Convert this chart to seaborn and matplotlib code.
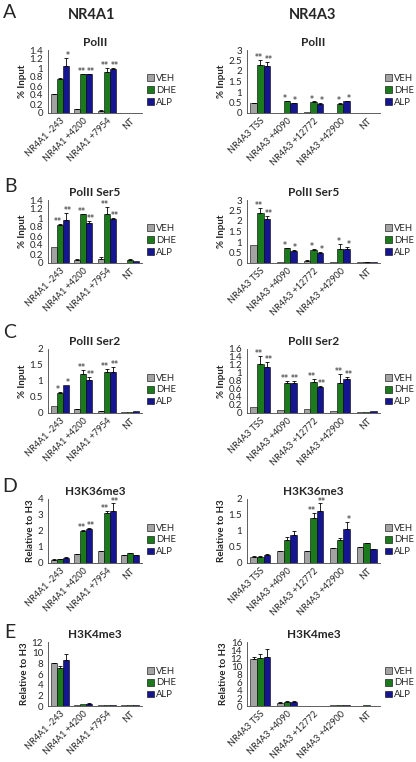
import numpy as np
import pandas as pd
import matplotlib
matplotlib.use("Agg")
import matplotlib.pyplot as plt
import seaborn as sns

sns.set_theme(style="white")
plt.rcParams["font.family"] = ["Lato", "DejaVu Sans"]

# categories
sites_a1 = ["NR4A1 -243", "NR4A1 +4200", "NR4A1 +7954", "NT"]
sites_a3 = ["NR4A3 TSS", "NR4A3 +4090", "NR4A3 +12772", "NR4A3 +42900", "NT"]
treatments = ["VEH", "DHE", "ALP"]
colors = ["#a3a3a3", "#0b8a0b", "#0000a6"]

# A: PolII  (rows = VEH, DHE, ALP)
polii_a1 = [[0.42, 0.08, 0.05, 0.01], [0.76, 0.86, 0.92, 0.01], [1.04, 0.86, 0.97, 0.01]]
polii_a1_err = [[0.01, 0.01, 0.01, 0.0], [0.02, 0.01, 0.08, 0.0], [0.19, 0.01, 0.04, 0.0]]
polii_a1_stars = [["", "", "", ""], ["", "**", "**", ""], ["*", "**", "**", ""]]
polii_a3 = [[0.48, 0.02, 0.03, 0.02, 0.01], [2.3, 0.55, 0.52, 0.45, 0.01], [2.25, 0.46, 0.45, 0.55, 0.01]]
polii_a3_err = [[0.01, 0.0, 0.0, 0.0, 0.0], [0.22, 0.03, 0.03, 0.02, 0.0], [0.2, 0.02, 0.02, 0.02, 0.0]]
polii_a3_stars = [["", "", "", "", ""], ["**", "*", "*", "*", ""], ["**", "*", "*", "*", ""]]

# B: PolII Ser5
ser5_a1 = [[0.35, 0.07, 0.1, 0.01], [0.84, 1.09, 1.08, 0.06], [0.96, 0.9, 0.97, 0.05]]
ser5_a1_err = [[0.0, 0.02, 0.04, 0.0], [0.02, 0.01, 0.17, 0.02], [0.15, 0.04, 0.03, 0.0]]
ser5_a1_stars = [["", "", "", ""], ["**", "**", "**", ""], ["**", "**", "**", ""]]
ser5_a3 = [[0.85, 0.05, 0.1, 0.03, 0.03], [2.4, 0.7, 0.62, 0.67, 0.05], [2.1, 0.58, 0.48, 0.65, 0.04]]
ser5_a3_err = [[0.0, 0.0, 0.02, 0.0, 0.0], [0.2, 0.03, 0.03, 0.25, 0.01], [0.15, 0.06, 0.03, 0.12, 0.0]]
ser5_a3_stars = [["", "", "", "", ""], ["**", "*", "*", "*", ""], ["**", "*", "*", "*", ""]]

# C: PolII Ser2
ser2_a1 = [[0.22, 0.12, 0.06, 0.02], [0.64, 1.22, 1.28, 0.02], [0.88, 1.02, 1.27, 0.06]]
ser2_a1_err = [[0.0, 0.02, 0.01, 0.0], [0.02, 0.12, 0.1, 0.0], [0.0, 0.12, 0.16, 0.0]]
ser2_a1_stars = [["", "", "", ""], ["*", "**", "**", ""], ["*", "**", "**", ""]]
ser2_a3 = [[0.15, 0.07, 0.09, 0.06, 0.02], [1.23, 0.76, 0.78, 0.74, 0.02], [1.15, 0.76, 0.65, 0.84, 0.06]]
ser2_a3_err = [[0.0, 0.0, 0.0, 0.0, 0.0], [0.2, 0.04, 0.07, 0.24, 0.0], [0.12, 0.04, 0.02, 0.06, 0.0]]
ser2_a3_stars = [["", "", "", "", ""], ["**", "**", "**", "**", ""], ["**", "**", "**", "**", ""]]

# D: H3K36me3
k36_a1 = [[0.2, 0.55, 0.72, 0.5], [0.22, 1.97, 3.1, 0.6], [0.3, 2.15, 3.27, 0.47]]
k36_a1_err = [[0.02, 0.02, 0.03, 0.02], [0.02, 0.12, 0.15, 0.02], [0.07, 0.06, 0.45, 0.02]]
k36_a1_stars = [["", "", "", ""], ["", "**", "**", ""], ["", "**", "**", ""]]
k36_a3 = [[0.2, 0.38, 0.38, 0.47, 0.5], [0.2, 0.72, 1.4, 0.73, 0.62], [0.25, 0.88, 1.62, 1.07, 0.44]]
k36_a3_err = [[0.01, 0.01, 0.01, 0.01, 0.01], [0.01, 0.1, 0.17, 0.06, 0.02], [0.02, 0.12, 0.24, 0.2, 0.01]]
k36_a3_stars = [["", "", "", "", ""], ["", "", "**", "", ""], ["", "", "**", "*", ""]]

# E: H3K4me3
k4_a1 = [[8.0, 0.2, 0.1, 0.2], [7.2, 0.35, 0.12, 0.2], [8.6, 0.45, 0.12, 0.15]]
k4_a1_err = [[0.1, 0.0, 0.0, 0.0], [0.3, 0.0, 0.0, 0.0], [1.2, 0.05, 0.0, 0.0]]
k4_a1_stars = [["", "", "", ""], ["", "", "", ""], ["", "", "", ""]]
k4_a3 = [[11.8, 0.7, 0.05, 0.15, 0.1], [12.1, 1.0, 0.05, 0.15, 0.15], [12.2, 1.1, 0.05, 0.15, 0.12]]
k4_a3_err = [[0.5, 0.3, 0.0, 0.0, 0.0], [1.0, 0.2, 0.0, 0.0, 0.0], [2.0, 0.2, 0.0, 0.0, 0.0]]
k4_a3_stars = [["", "", "", "", ""], ["", "", "", "", ""], ["", "", "", "", ""]]

W, H = 416, 762
fig = plt.figure(figsize=(W / 100, H / 100), dpi=100)


def add_ax(x0, x1, y0, y1):
    return fig.add_axes([x0 / W, 1 - y1 / H, (x1 - x0) / W, (y1 - y0) / H])


def panel(ax, sites, means, errs, stars, ymax, ystep, title, ylabel, width_px):
    df = pd.DataFrame({
        "site": [s for _ in treatments for s in sites],
        "treatment": [t for t in treatments for _ in sites],
        "value": [v for row in means for v in row],
    })
    sns.barplot(data=df, x="site", y="value", hue="treatment", order=sites,
                hue_order=treatments, palette=colors, width=0.75, errorbar=None,
                edgecolor="black", linewidth=0.4, ax=ax)
    shifts = [0, -1.2, 1.2]
    for cont, err, st, dx in zip(ax.containers, errs, stars, shifts):
        for bar, e, s in zip(cont, err, st):
            x = bar.get_x() + bar.get_width() / 2
            h = bar.get_height()
            if e > 0:
                ax.errorbar(x, h, yerr=[[0], [e]], fmt="none", ecolor="black",
                            elinewidth=0.6, capsize=1.5, capthick=0.6)
            if s:
                ax.annotate(s, (x, h + e), xytext=(dx, -1.5), textcoords="offset points",
                            ha="center", va="bottom", fontsize=5.8, family="DejaVu Sans")
    ax.set_ylim(0, ymax)
    ticks = np.arange(0, ymax + ystep / 2, ystep)
    ax.set_yticks(ticks)
    ax.set_yticklabels([f"{t:g}" for t in np.round(ticks, 2)], fontsize=7)
    ax.set_xlim(-0.5, len(sites) - 0.5)
    ax.set_xticks(range(len(sites)))
    ax.set_xticklabels(sites, rotation=45, ha="right", rotation_mode="anchor", fontsize=6.5)
    ax.set_xticks(np.arange(-0.5, len(sites)), minor=True)
    ax.tick_params(axis="x", which="major", length=0, pad=2.5)
    ax.tick_params(axis="x", which="minor", length=3, width=0.6, color="#444444", direction="out")
    ax.tick_params(axis="y", length=2, width=0.6, color="#444444", direction="out", pad=1.5)
    for side in ["top", "right"]:
        ax.spines[side].set_visible(False)
    for side in ["left", "bottom"]:
        ax.spines[side].set_linewidth(0.6)
        ax.spines[side].set_color("#444444")
    ax.set_xlabel("")
    ax.set_ylabel(ylabel, fontsize=7, fontweight="bold", labelpad=2)
    ax.set_title(title, fontsize=8.5, fontweight="bold", pad=3)
    ax.legend(loc="center left", bbox_to_anchor=(1 + 5 / width_px, 0.36), frameon=False,
              fontsize=6.8, handlelength=0.75, handleheight=0.75, labelspacing=0.3,
              handletextpad=0.25, borderaxespad=0, borderpad=0)


rows = [
    (50, 113, 13, "A", "PolII", "% Input",
     (polii_a1, polii_a1_err, polii_a1_stars, 1.4, 0.2),
     (polii_a3, polii_a3_err, polii_a3_stars, 3, 0.5)),
    (200, 263, 187, "B", "PolII Ser5", "% Input",
     (ser5_a1, ser5_a1_err, ser5_a1_stars, 1.4, 0.2),
     (ser5_a3, ser5_a3_err, ser5_a3_stars, 3, 0.5)),
    (349, 413, 333, "C", "PolII Ser2", "% Input",
     (ser2_a1, ser2_a1_err, ser2_a1_stars, 2, 0.5),
     (ser2_a3, ser2_a3_err, ser2_a3_stars, 1.6, 0.2)),
    (499, 563, 487, "D", "H3K36me3", "Relative to H3",
     (k36_a1, k36_a1_err, k36_a1_stars, 4, 1),
     (k36_a3, k36_a3_err, k36_a3_stars, 2, 0.5)),
    (642, 706, 633, "E", "H3K4me3", "Relative to H3",
     (k4_a1, k4_a1_err, k4_a1_stars, 12, 2),
     (k4_a3, k4_a3_err, k4_a3_stars, 16, 2)),
]

for y0, y1, ly, letter, title, ylabel, left, right in rows:
    axl = add_ax(48, 142, y0, y1)
    panel(axl, sites_a1, left[0], left[1], left[2], left[3], left[4], title, ylabel, 94)
    axr = add_ax(247, 380, y0, y1)
    panel(axr, sites_a3, right[0], right[1], right[2], right[3], right[4], title, ylabel, 133)
    fig.text(10 / W, 1 - ly / H, letter, fontsize=14, ha="center", va="center")

fig.text(92 / W, 1 - 15 / H, "NR4A1", fontsize=10.5, fontweight="bold", ha="center", va="center")
fig.text(313 / W, 1 - 15 / H, "NR4A3", fontsize=10.5, fontweight="bold", ha="center", va="center")

fig.savefig("out.png", dpi=100, facecolor="white")
